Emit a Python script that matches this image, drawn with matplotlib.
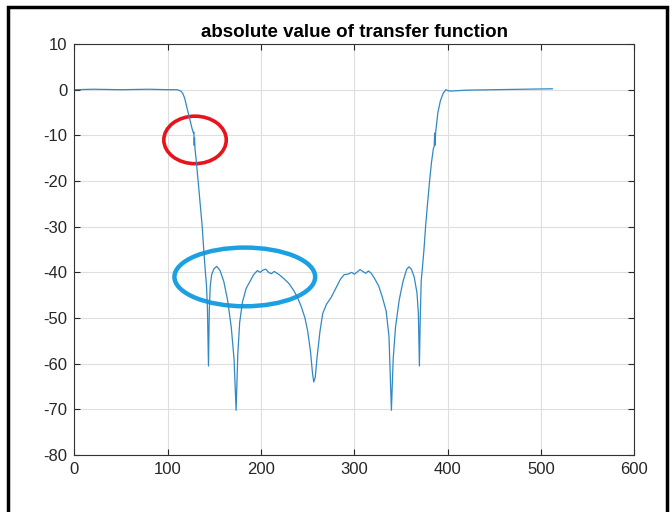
import numpy as np
import matplotlib.pyplot as plt
from matplotlib.patches import Ellipse, Rectangle

plt.rcParams['font.family'] = ['Liberation Sans', 'DejaVu Sans']
plt.rcParams['axes.unicode_minus'] = False

# sample index and magnitude (dB)
idx = [1, 20, 50, 80, 100, 110, 114, 116, 118, 120, 123, 126, 127.5,
       128, 128.3, 128.6, 129.2, 130.4, 132.5, 134.7, 136.9, 138.5, 140.1,
       141.5, 142.5, 143.6, 144.5, 145.5, 147, 149.5, 152.5, 156, 160,
       164, 168, 171, 173.2, 175, 177, 180, 184, 188, 192, 196, 199, 202,
       205, 208, 211, 214, 217, 220, 225, 230, 235, 239, 243, 247, 250,
       253, 255, 256.4, 258, 260, 263, 266, 270, 275, 280, 285, 289, 293,
       297, 300, 303, 306, 309, 312, 315, 318, 322, 326, 330, 334, 337,
       339.6, 341.5, 344, 348, 352, 356, 358.5, 361, 364, 367, 368.5,
       369.6, 370.5, 371.5, 372.6, 374.5, 376.2, 378.3, 380.5, 382.5,
       384.5, 385.5, 385.9, 386.2, 386.6, 387.2, 389.4, 392, 395, 398,
       400, 403, 420, 450, 480, 512]
mag = [0, 0.1, 0, 0.1, 0, 0, -0.3, -0.8, -1.8, -3.5, -6, -8.5, -9.5,
       -9.3, -12.2, -10.5, -13, -15.4, -20, -25, -30, -35, -39.5,
       -43, -48, -60.5, -48, -43, -40.5, -39.2, -38.7, -39.6, -42,
       -46, -52, -59, -70.2, -58, -51, -46.5, -43.5, -42, -40.5, -39.6, -40, -39.5,
       -39.3, -40, -40.3, -39.8, -40.2, -40.6, -41.5, -42.5, -44, -45.5, -47.5, -50, -53,
       -57.5, -62, -64, -63, -58.5, -53, -49, -47, -45.5, -43.5, -41.5, -40.5, -40.4,
       -40, -40.4, -39.9, -39.4, -39.8, -40.2, -39.7, -40.2, -41.5, -43, -45.5, -48.5, -54,
       -70.2, -59, -52, -46, -42, -39.3, -38.8, -39.3, -41, -44.5, -49,
       -60.5, -50, -42, -39.5, -35, -30, -25, -20, -16,
       -13, -12.3, -9.5, -12.2, -10.5, -9, -5, -2.5, -0.8, 0,
       -0.2, -0.3, -0.1, 0, 0.1, 0.2]

xticks = [0, 100, 200, 300, 400, 500, 600]
yticks = [10, 0, -10, -20, -30, -40, -50, -60, -70, -80]

fig = plt.figure(figsize=(6.72, 5.12), dpi=100)
ax = fig.add_axes([0.1108, 0.1113, 0.8333, 0.8027])

ax.plot(idx, mag, color='#3089c4', lw=0.9)

ax.set_xlim(0, 600)
ax.set_ylim(-80, 10)
ax.set_xticks(xticks)
ax.set_yticks(yticks)
ax.grid(True, color='#dedede', lw=0.8)
ax.set_axisbelow(True)
ax.tick_params(direction='in', length=4, width=0.8, colors='#262626',
               labelsize=12, top=True, right=True, pad=5)
for s in ax.spines.values():
    s.set_color('#333333')
    s.set_linewidth(0.8)
ax.set_title('absolute value of transfer function', fontsize=13.5,
             fontweight='bold', pad=5)

# hand-drawn highlight ellipses
ax.add_patch(Ellipse((129.2, -11.0), 66.9, 10.4, fill=False,
                     edgecolor='#e8141c', lw=2.6, clip_on=False))
ax.add_patch(Ellipse((182.5, -41.0), 150.8, 12.85, fill=False,
                     edgecolor='#1ba1e2', lw=3.2, clip_on=False))

# outer black frame
fig.patches.append(Rectangle((8 / 672, -0.1), 659 / 672, 1.1 - 7 / 512,
                             transform=fig.transFigure, fill=False,
                             edgecolor='black', lw=2.5))

fig.savefig('out.png', dpi=100)
